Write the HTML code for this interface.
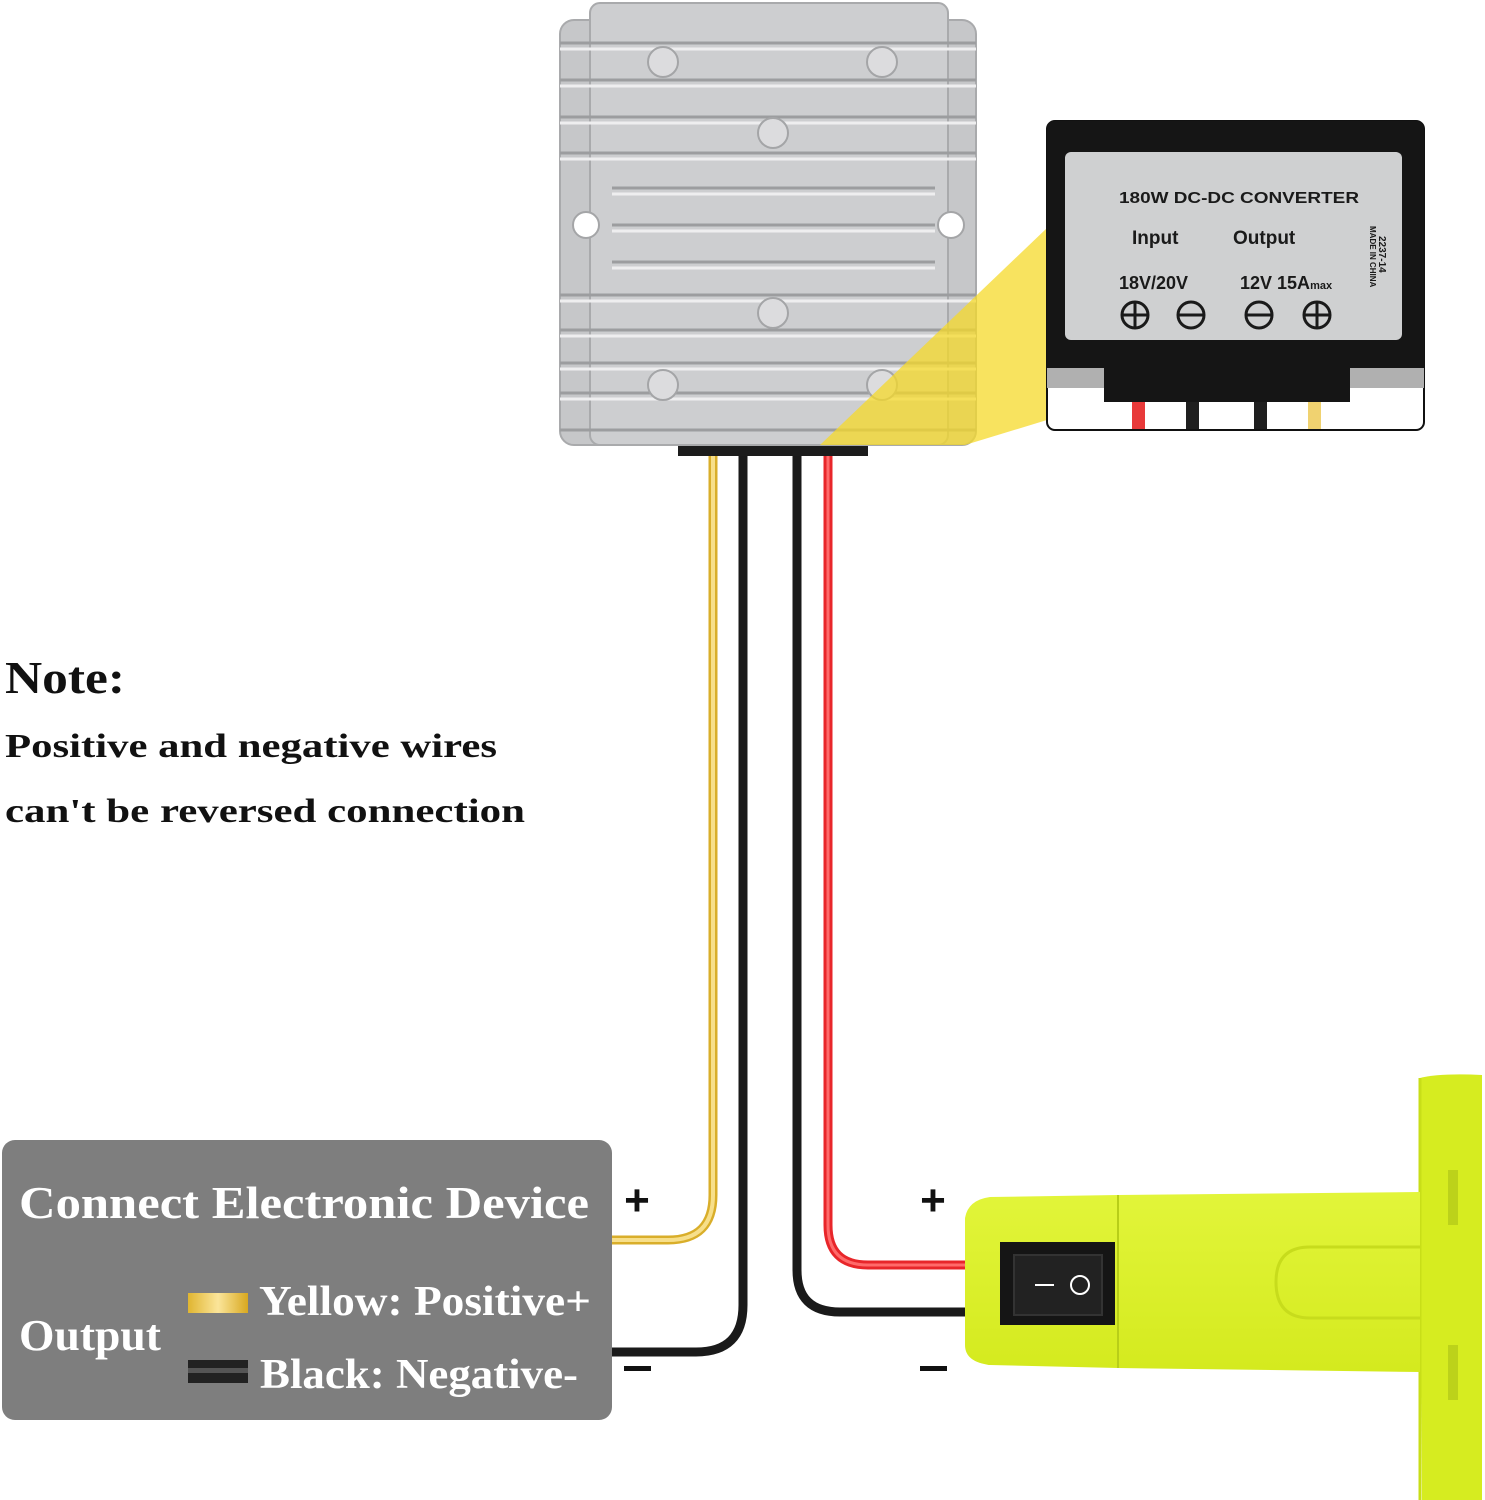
<!DOCTYPE html>
<html><head><meta charset="utf-8"><style>
html,body{margin:0;padding:0;background:#fff;}
svg{display:block;}
</style></head><body>
<svg width="1485" height="1500" viewBox="0 0 1485 1500" xmlns="http://www.w3.org/2000/svg">
<defs>
<linearGradient id="yw" x1="0" y1="0" x2="1" y2="0"><stop offset="0" stop-color="#e0b530"/><stop offset=".5" stop-color="#fbe59a"/><stop offset="1" stop-color="#d8a820"/></linearGradient>
<linearGradient id="lime" x1="0" y1="0" x2="0" y2="1"><stop offset="0" stop-color="#e2f53a"/><stop offset="1" stop-color="#d4ea1e"/></linearGradient>
</defs>
<rect width="1485" height="1500" fill="#fff"/>

<!-- wires -->
<g fill="none" stroke-linecap="butt">
<path d="M713 455 V1195 Q713 1240 668 1240 H612" stroke="#d9ae2a" stroke-width="9"/>
<path d="M713 455 V1195 Q713 1240 668 1240 H612" stroke="#f7df8a" stroke-width="4"/>
<path d="M743 455 V1305 Q743 1352 696 1352 H612" stroke="#1a1a1a" stroke-width="9"/>
<path d="M797 455 V1270 Q797 1312 840 1312 H965" stroke="#1a1a1a" stroke-width="9"/>
<path d="M828 455 V1225 Q828 1265 868 1265 H965" stroke="#e8262a" stroke-width="9"/>
<path d="M828 455 V1225 Q828 1265 868 1265 H965" stroke="#ff6a6a" stroke-width="3"/>
</g>

<!-- converter -->
<rect x="678" y="444" width="190" height="12" fill="#1c1c1c"/>
<rect x="560" y="20" width="416" height="425" rx="14" fill="#c6c7c9" stroke="#a9aaac" stroke-width="2"/>
<rect x="590" y="3" width="358" height="442" rx="10" fill="#cdced0" stroke="#a9aaac" stroke-width="2"/>
<g stroke="#9c9d9f" stroke-width="3" fill="none">
<line x1="560" y1="43" x2="976" y2="43"/><line x1="560" y1="80" x2="976" y2="80"/>
<line x1="560" y1="117" x2="976" y2="117"/><line x1="560" y1="153" x2="976" y2="153"/>
<line x1="612" y1="188" x2="935" y2="188"/><line x1="612" y1="225" x2="935" y2="225"/>
<line x1="612" y1="262" x2="935" y2="262"/>
<line x1="560" y1="295" x2="976" y2="295"/><line x1="560" y1="330" x2="976" y2="330"/>
<line x1="560" y1="363" x2="976" y2="363"/><line x1="560" y1="393" x2="976" y2="393"/>
<line x1="560" y1="430" x2="976" y2="430"/>
</g>
<g stroke="#eeeeef" stroke-width="3" fill="none">
<line x1="560" y1="49" x2="976" y2="49"/><line x1="560" y1="86" x2="976" y2="86"/>
<line x1="560" y1="123" x2="976" y2="123"/><line x1="560" y1="159" x2="976" y2="159"/>
<line x1="612" y1="194" x2="935" y2="194"/><line x1="612" y1="231" x2="935" y2="231"/>
<line x1="612" y1="268" x2="935" y2="268"/>
<line x1="560" y1="301" x2="976" y2="301"/><line x1="560" y1="336" x2="976" y2="336"/>
<line x1="560" y1="369" x2="976" y2="369"/><line x1="560" y1="399" x2="976" y2="399"/>
</g>
<g fill="#dcdcde" stroke="#a4a5a7" stroke-width="2">
<circle cx="663" cy="62" r="15"/><circle cx="882" cy="62" r="15"/>
<circle cx="773" cy="133" r="15"/><circle cx="773" cy="313" r="15"/>
<circle cx="663" cy="385" r="15"/><circle cx="882" cy="385" r="15"/>
</g>
<circle cx="586" cy="225" r="13" fill="#fff" stroke="#a4a5a7" stroke-width="2"/>
<circle cx="951" cy="225" r="13" fill="#fff" stroke="#a4a5a7" stroke-width="2"/>

<!-- highlight cone -->
<polygon points="820,445 1047,228 1047,420 965,445" fill="#f5d92a" fill-opacity="0.75"/>

<!-- zoom box -->
<rect x="1047" y="121" width="377" height="309" rx="8" fill="#fff" stroke="#111" stroke-width="2"/>
<rect x="1047" y="121" width="377" height="265" rx="8" fill="#151515"/>
<rect x="1047" y="368" width="57" height="20" fill="#b0b0b0"/>
<rect x="1350" y="368" width="74" height="20" fill="#b0b0b0"/>
<rect x="1104" y="370" width="246" height="32" fill="#151515"/>
<rect x="1132" y="402" width="13" height="27" fill="#e83a3a"/>
<rect x="1186" y="402" width="13" height="27" fill="#1f1f1f"/>
<rect x="1254" y="402" width="13" height="27" fill="#1f1f1f"/>
<rect x="1308" y="402" width="13" height="27" fill="#f0d270"/>
<rect x="1065" y="152" width="337" height="188" rx="6" fill="#cfd0d1"/>
<g font-family="Liberation Sans, sans-serif" font-weight="bold" fill="#1a1a1a">
<text x="1119" y="203" font-size="16" textLength="240" lengthAdjust="spacingAndGlyphs">180W DC-DC CONVERTER</text>
<text x="1132" y="244" font-size="19">Input</text>
<text x="1233" y="244" font-size="19">Output</text>
<text x="1119" y="289" font-size="18">18V/20V</text>
<text x="1240" y="289" font-size="18">12V 15A<tspan font-size="11">max</tspan></text>
<text font-size="8" transform="translate(1370,226) rotate(90)">MADE IN CHINA</text>
<text font-size="10" transform="translate(1379,236) rotate(90)">2237-14</text>
</g>
<g stroke="#1a1a1a" stroke-width="3" fill="none">
<circle cx="1135" cy="315" r="13"/><line x1="1122" y1="315" x2="1148" y2="315"/><line x1="1135" y1="302" x2="1135" y2="328"/>
<circle cx="1191" cy="315" r="13"/><line x1="1178" y1="315" x2="1204" y2="315"/>
<circle cx="1259" cy="315" r="13"/><line x1="1246" y1="315" x2="1272" y2="315"/>
<circle cx="1317" cy="315" r="13"/><line x1="1304" y1="315" x2="1330" y2="315"/><line x1="1317" y1="302" x2="1317" y2="328"/>
</g>

<!-- Note -->
<g font-family="Liberation Serif, serif" font-weight="bold" fill="#111">
<text x="5" y="693" font-size="46" textLength="120" lengthAdjust="spacingAndGlyphs">Note:</text>
<text x="5" y="757" font-size="34" textLength="492" lengthAdjust="spacingAndGlyphs">Positive and negative wires</text>
<text x="5" y="822" font-size="34" textLength="520" lengthAdjust="spacingAndGlyphs">can't be reversed connection</text>
</g>

<!-- gray box -->
<rect x="2" y="1140" width="610" height="280" rx="13" fill="#7e7e7e"/>
<g font-family="Liberation Serif, serif" font-weight="bold" fill="#fff">
<text x="19" y="1218" font-size="46" textLength="570" lengthAdjust="spacingAndGlyphs">Connect Electronic Device</text>
<text x="19" y="1350" font-size="44" textLength="142" lengthAdjust="spacingAndGlyphs">Output</text>
<text x="259" y="1315" font-size="42" textLength="332" lengthAdjust="spacingAndGlyphs">Yellow: Positive+</text>
<text x="260" y="1388" font-size="42" textLength="318" lengthAdjust="spacingAndGlyphs">Black: Negative-</text>
</g>
<rect x="188" y="1293" width="60" height="20" fill="url(#yw)"/>
<rect x="188" y="1360" width="60" height="23" fill="#222"/>
<rect x="188" y="1368" width="60" height="5" fill="#555"/>

<!-- +/- labels -->
<g font-family="Liberation Sans, sans-serif" font-weight="bold" fill="#111" font-size="44" text-anchor="middle">
<text x="637" y="1215">+</text><text x="933" y="1215">+</text>
</g>
<rect x="624" y="1366" width="27" height="5" fill="#111"/>
<rect x="920" y="1366" width="27" height="5" fill="#111"/>

<!-- adapter -->
<path d="M1420 1078 Q1440 1073 1482 1075 V1500 H1422 Z" fill="#d6ec20"/>
<path d="M1420 1078 V1500" stroke="#c8de18" stroke-width="3"/>
<rect x="1448" y="1170" width="10" height="55" fill="#bcd21a"/>
<rect x="1448" y="1345" width="10" height="55" fill="#bcd21a"/>
<path d="M965 1218 Q968 1200 990 1197 L1118 1195 L1420 1192 V1372 L1118 1368 L990 1365 Q965 1362 965 1345 Z" fill="url(#lime)"/>
<line x1="1118" y1="1195" x2="1118" y2="1368" stroke="#b8ce18" stroke-width="2"/>
<path d="M1420 1247 H1310 Q1276 1247 1276 1282 Q1276 1318 1310 1318 H1420" fill="none" stroke="#c7dc1c" stroke-width="3"/>
<rect x="1000" y="1242" width="115" height="83" fill="#151515"/>
<rect x="1014" y="1255" width="88" height="60" fill="#222" stroke="#333" stroke-width="2"/>
<line x1="1035" y1="1285" x2="1054" y2="1285" stroke="#fff" stroke-width="2"/>
<circle cx="1080" cy="1285" r="9" fill="none" stroke="#fff" stroke-width="2"/>
</svg>
</body></html>
